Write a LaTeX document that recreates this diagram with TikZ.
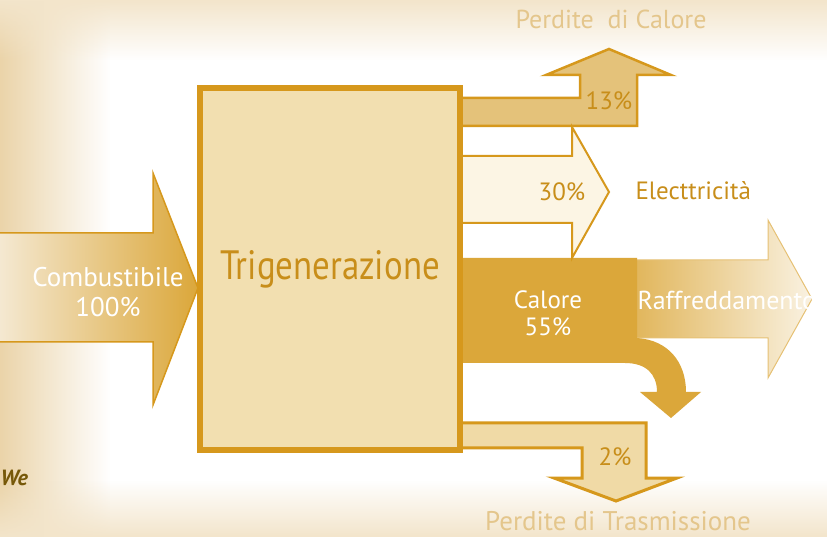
\documentclass[tikz,border=0pt]{standalone}
\usepackage{fontspec}
\setmainfont{PT Sans}
\newfontfamily\narrowfont[FakeStretch=0.85]{PT Sans}
\usetikzlibrary{positioning,fadings}

\definecolor{gold}{RGB}{214,152,28}
\definecolor{boxfill}{RGB}{242,223,176}
\definecolor{heatfill}{RGB}{219,167,58}
\definecolor{lossfill}{RGB}{228,194,122}
\definecolor{trasfill}{RGB}{240,218,166}
\definecolor{elecfill}{RGB}{252,245,228}
\definecolor{txtgold}{RGB}{200,142,26}
\definecolor{pale}{RGB}{228,198,140}
\definecolor{olive}{RGB}{118,88,8}

\begin{document}
\begin{tikzpicture}[x=1pt,y=-1pt,
    flowline/.style={draw=gold, line width=2.5pt, line join=miter},
    whitelabel/.style={text=white, align=center, font=\fontsize{25}{25}\selectfont},
    goldlabel/.style={text=txtgold, font=\fontsize{25}{27}\selectfont},
    palelabel/.style={text=pale, font=\fontsize{26}{28}\selectfont}]

    % background
    \useasboundingbox (0,0) rectangle (828,537);
    \fill[white] (0,0) rectangle (828,537);
    \fill[pale!75, path fading=east] (0,0) rectangle (110,537);
    \fill[pale!45, path fading=south] (0,0) rectangle (828,60);
    \fill[pale!45, path fading=north] (0,480) rectangle (828,537);

    % Combustibile in
    \draw[left color=white!60!pale, right color=heatfill, draw=gold, line width=1.5pt]
        (0,233) -- (153,233) -- (153,173) -- (198,288) -- (153,405) -- (153,342) -- (0,342);

    % Raffreddamento
    \draw[left color=heatfill!85!white, right color=white!85!heatfill, draw=heatfill!70!white, line width=1pt]
        (630,260) -- (768,260) -- (768,220) -- (812,299) -- (768,378) -- (768,338) -- (630,338) -- cycle;

    % Calore band with curved branch
    \fill[heatfill] (458,258) -- (637,258) -- (637,338)
        .. controls (668,340) and (686,362) .. (686,392) -- (701,392) -- (671,418) -- (640,392) -- (657,392)
        .. controls (657,374) and (646,363) .. (625,363) -- (458,363) -- cycle;

    % Perdite di Calore
    \draw[flowline, fill=lossfill]
        (458,98) -- (580,98) -- (580,75) -- (546,75) -- (609,49) -- (671,75) -- (637,75) -- (637,126) -- (458,126);

    % Elettricita
    \draw[flowline, line width=2pt, fill=elecfill]
        (458,156) -- (572,156) -- (572,127) -- (609,192) -- (572,258) -- (572,223) -- (458,223);

    % Perdite di Trasmissione
    \draw[flowline, line width=3pt, fill=trasfill]
        (458,423) -- (646,423) -- (646,478) -- (677,478) -- (616,501) -- (554,478) -- (582,478) -- (582,448) -- (458,448);

    % main box
    \node[draw=gold, line width=6pt, fill=boxfill, minimum width=260pt, minimum height=362pt,
          text=txtgold, font=\narrowfont\fontsize{41}{44}\selectfont] (trig) at (330,269) {Trigenerazione};

    % labels
    \node[whitelabel, font=\fontsize{27}{30}\selectfont] (fuel) at (108,292) {Combustibile\\100\%};
    \node[whitelabel, font=\fontsize{25}{27}\selectfont] (heat) at (548,313) {Calore\\55\%};
    \node[whitelabel, font=\fontsize{26}{28}\selectfont, anchor=west] (cool) at (634,300) {Raffreddamento};
    \node[goldlabel] (lossh) at (609,101) {13\%};
    \node[goldlabel] (elecp) at (562,192) {30\%};
    \node[goldlabel, anchor=west] (elec) at (632,191) {Electtricità};
    \node[goldlabel] (losst) at (615,457) {2\%};
    \node[palelabel] (heatlab) at (611,19) {Perdite\ \ di Calore};
    \node[palelabel, font=\fontsize{27}{29}\selectfont] (translab) at (618,521) {Perdite di Trasmissione};
    \node[text=olive, anchor=west, font=\bfseries\itshape\fontsize{22}{24}\selectfont] (we) at (-3,478) {We};

\end{tikzpicture}
\end{document}
